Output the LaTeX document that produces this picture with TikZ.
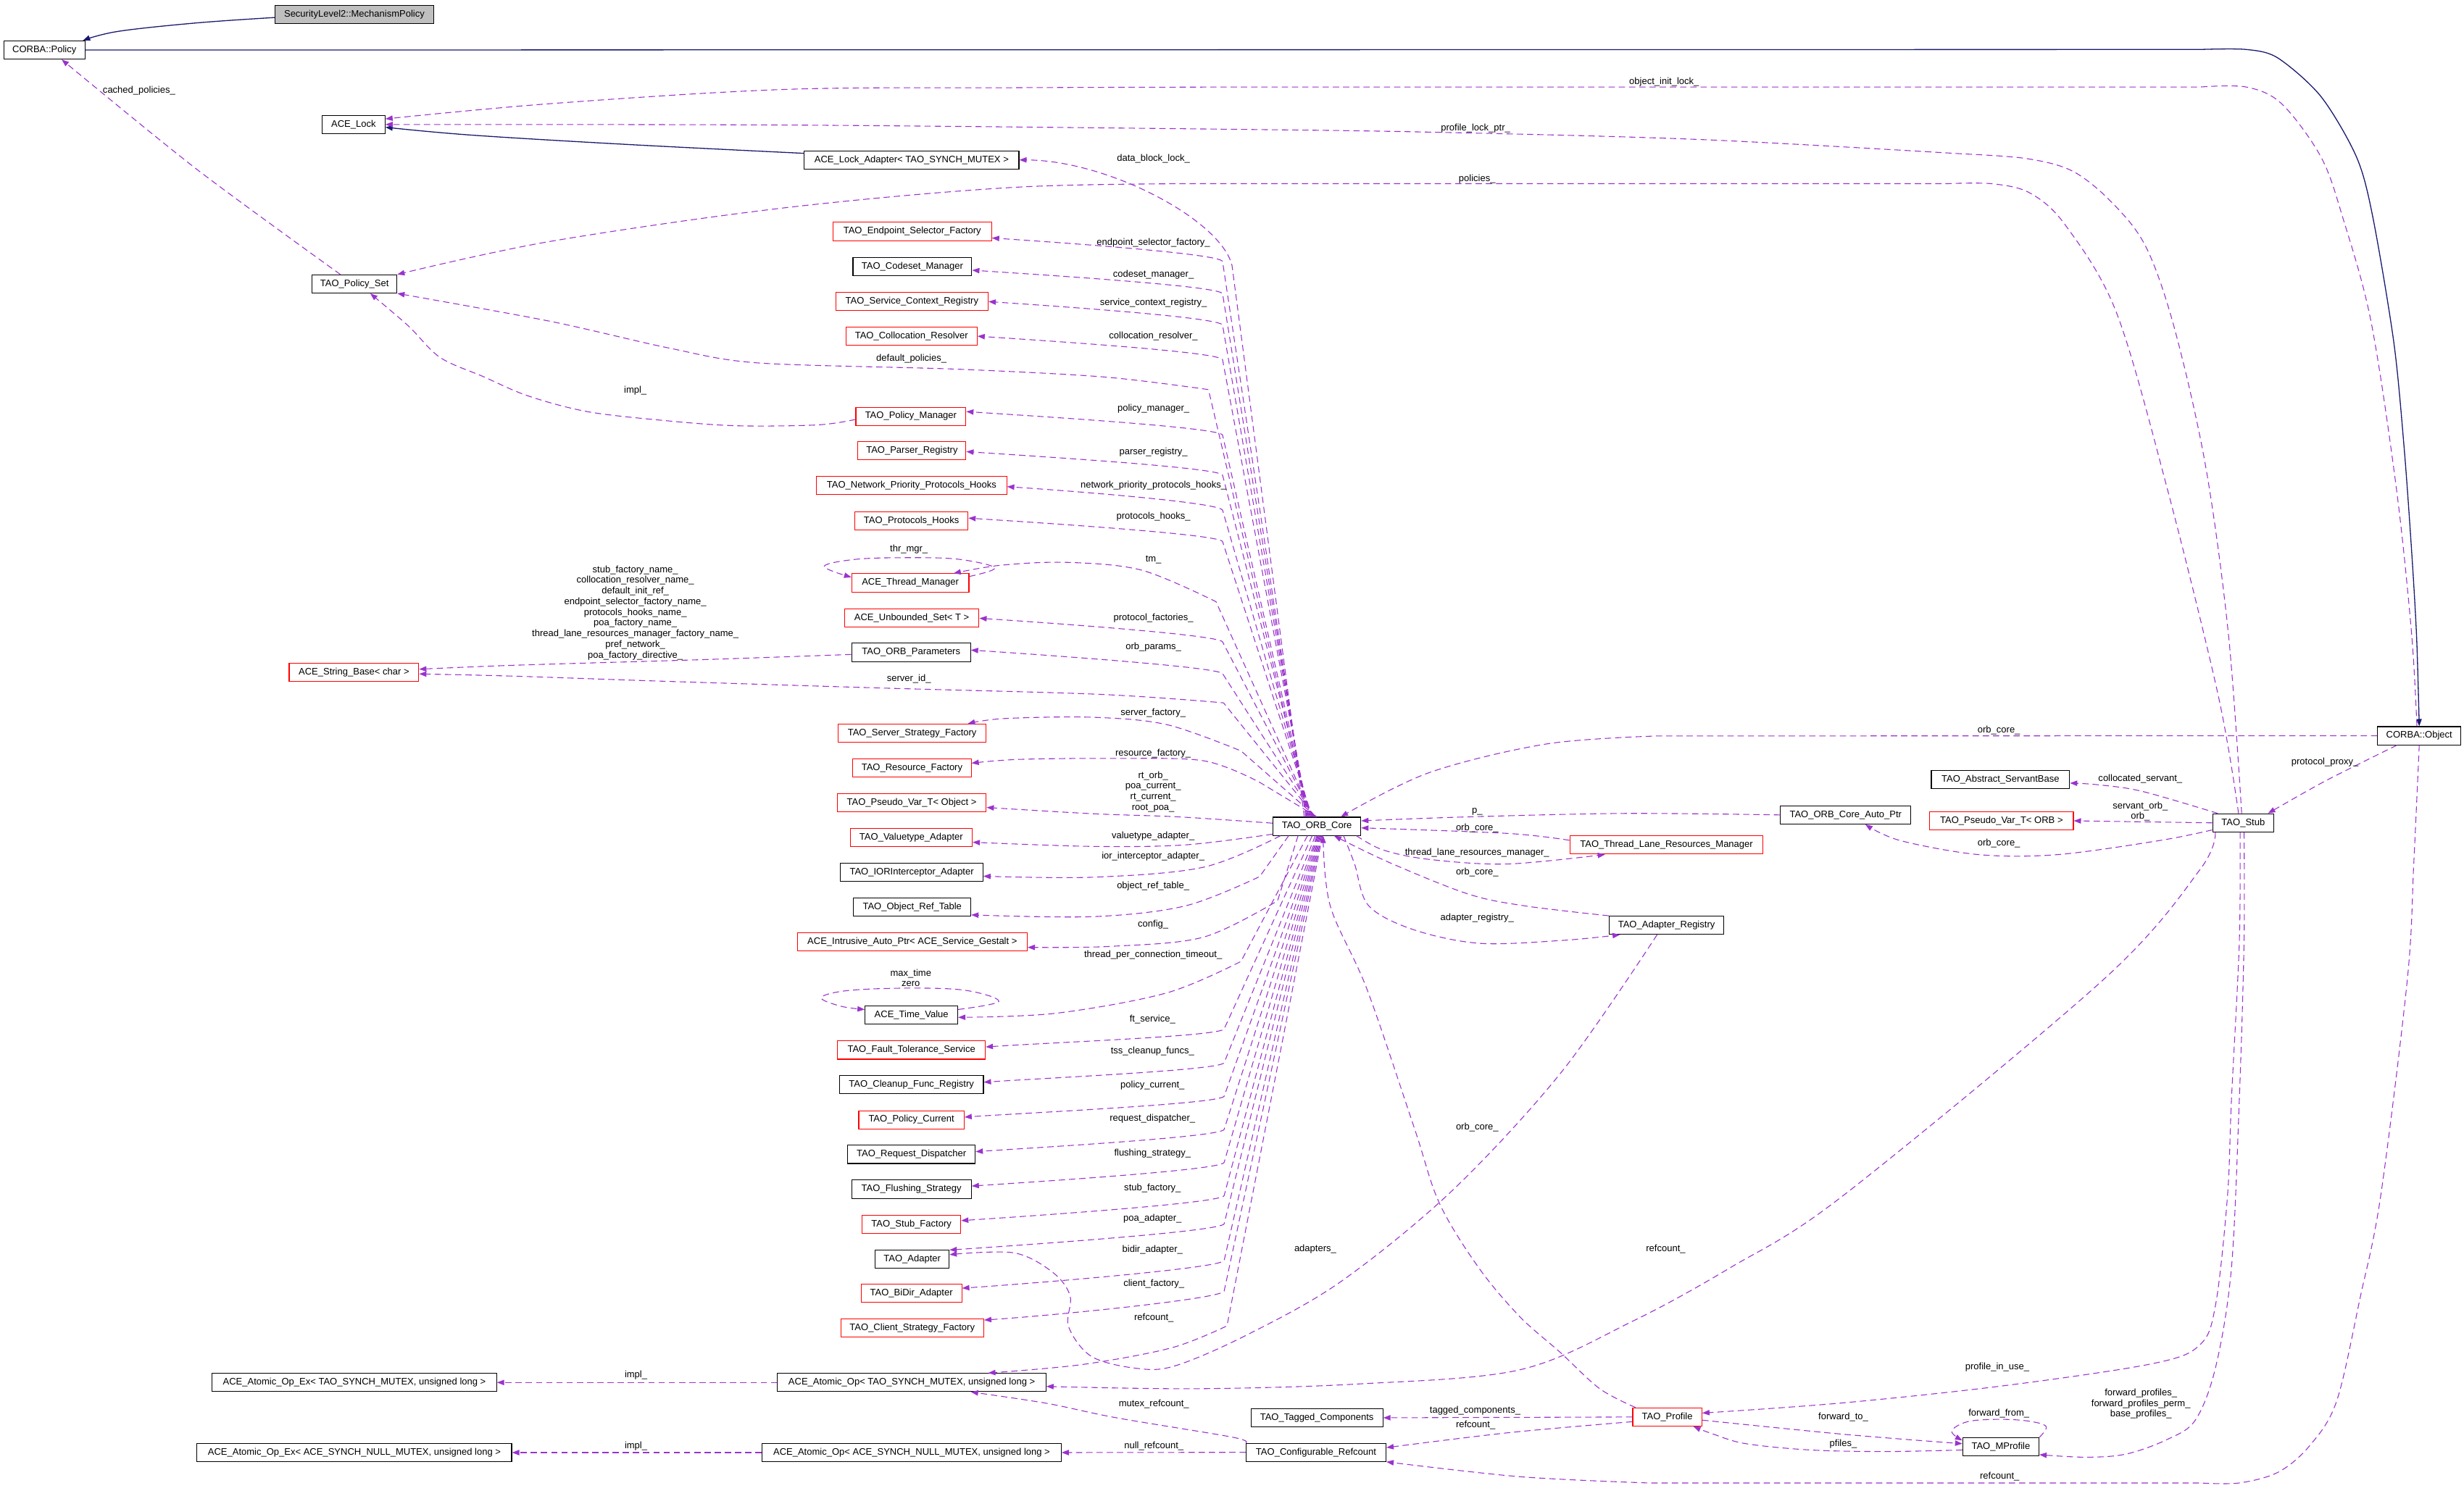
\documentclass[tikz,border=0pt]{standalone}
\usepackage{fontspec}
\setmainfont{Liberation Sans}
\usetikzlibrary{arrows.meta,calc}
\definecolor{usec}{HTML}{9A32CD}
\definecolor{inhc}{HTML}{191970}
\definecolor{grayfill}{HTML}{BFBFBF}
\newcommand\fs{\fontsize{6}{6.8}\selectfont}
\newcommand\ufan[4]{\coordinate (fs) at ($(orb.north)+(#4,0)$);\coordinate (fe) at ($(#1.east)+(0,#2)$);\coordinate (fb) at (778,{#3+15});\draw[use] (fs) -- (fb) .. controls ($(fb)!-5pt!(fs)$) and ($(fe)+(45,3)$) .. (fe);}
\newcommand\lfan[4]{\coordinate (fs) at ($(orb.south)+(#4,0)$);\coordinate (fe) at ($(#1.east)+(0,#2)$);\coordinate (fb) at (779,{#3-11.5-0.04*(#3-666)});\draw[use] (fs) -- (fb) .. controls ($(fb)!-5pt!(fs)$) and ($(fe)+(45,-3)$) .. (fe);}
\begin{document}
\begin{tikzpicture}[x=1pt,y=-1pt,
  box/.style={draw=black,line width=.5pt,minimum height=11.6pt,inner sep=0pt,font=\fs,fill=white},
  rbox/.style={box,draw=red},
  lbl/.style={font=\fs,inner sep=0pt,align=center},
  use/.style={draw=usec,line width=.5pt,dash pattern=on 4pt off 2.5pt,-{Triangle[length=4.6pt,width=3.4pt]}},
  inh/.style={draw=inhc,line width=.6pt,-{Triangle[length=4.6pt,width=3.4pt]}}]
\fill[white] (0,0) rectangle (1568,957.4);
\useasboundingbox (0,0) rectangle (1568,957.4);
% ---------------- nodes
\node[box,fill=grayfill,minimum width=101pt] (sec) at (225.5,9.15) {SecurityLevel2::MechanismPolicy};
\node[box,minimum width=51.5pt] (cpol) at (28.25,31.85) {CORBA::Policy};
\node[box,minimum width=40pt] (alock) at (225,79.25) {ACE\_Lock};
\node[box,minimum width=136.6pt] (lockad) at (580.1,101.8) {ACE\_Lock\_Adapter< TAO\_SYNCH\_MUTEX >};
\node[rbox,minimum width=101pt] (esf) at (580.5,147.35) {TAO\_Endpoint\_Selector\_Factory};
\node[box,minimum width=75.6pt] (csm) at (580.6,169.75) {TAO\_Codeset\_Manager};
\node[rbox,minimum width=97pt] (scr) at (580.3,191.8) {TAO\_Service\_Context\_Registry};
\node[rbox,minimum width=83.5pt] (cres) at (580.05,213.85) {TAO\_Collocation\_Resolver};
\node[box,minimum width=54pt] (pset) at (225.6,180.75) {TAO\_Policy\_Set};
\node[rbox,minimum width=70pt] (pman) at (579.65,265) {TAO\_Policy\_Manager};
\node[rbox,minimum width=68.7pt] (preg) at (580.35,287) {TAO\_Parser\_Registry};
\node[rbox,minimum width=121pt] (nph) at (580.1,309) {TAO\_Network\_Priority\_Protocols\_Hooks};
\node[rbox,minimum width=72pt] (phk) at (580,331.5) {TAO\_Protocols\_Hooks};
\node[rbox,minimum width=74.6pt] (thm) at (579.3,371) {ACE\_Thread\_Manager};
\node[rbox,minimum width=85.6pt] (uset) at (580.2,393.55) {ACE\_Unbounded\_Set< T >};
\node[box,minimum width=75.6pt] (orbp) at (579.8,415.3) {TAO\_ORB\_Parameters};
\node[rbox,minimum width=82.5pt] (strb) at (225.25,428) {ACE\_String\_Base< char >};
\node[rbox,minimum width=94.3pt] (ssf) at (580.45,466.75) {TAO\_Server\_Strategy\_Factory};
\node[rbox,minimum width=75.3pt] (rfac) at (580.35,488.8) {TAO\_Resource\_Factory};
\node[rbox,minimum width=94.8pt] (pvo) at (580.2,511) {TAO\_Pseudo\_Var\_T< Object >};
\node[rbox,minimum width=77.7pt] (vta) at (579.85,533.15) {TAO\_Valuetype\_Adapter};
\node[box,minimum width=90.6pt] (ior) at (580.2,555.25) {TAO\_IORInterceptor\_Adapter};
\node[box,minimum width=74.6pt] (ort) at (580.5,577.4) {TAO\_Object\_Ref\_Table};
\node[rbox,minimum width=146.3pt] (iap) at (580.55,599.55) {ACE\_Intrusive\_Auto\_Ptr< ACE\_Service\_Gestalt >};
\node[box,minimum width=59pt] (tval) at (580,646) {ACE\_Time\_Value};
\node[rbox,minimum width=94pt] (fts) at (580,668.45) {TAO\_Fault\_Tolerance\_Service};
\node[box,minimum width=91.6pt] (cfr) at (580,690.5) {TAO\_Cleanup\_Func\_Registry};
\node[rbox,minimum width=67pt] (pcur) at (580,712.8) {TAO\_Policy\_Current};
\node[box,minimum width=81.2pt] (rdis) at (580,734.85) {TAO\_Request\_Dispatcher};
\node[box,minimum width=76.2pt] (fls) at (580,757) {TAO\_Flushing\_Strategy};
\node[rbox,minimum width=62.8pt] (stf) at (580,779.25) {TAO\_Stub\_Factory};
\node[box,minimum width=47pt] (tad) at (580.5,801.45) {TAO\_Adapter};
\node[rbox,minimum width=64pt] (bidir) at (580,823.25) {TAO\_BiDir\_Adapter};
\node[rbox,minimum width=91pt] (csf) at (580.5,845.3) {TAO\_Client\_Strategy\_Factory};
\node[box,minimum width=56pt] (orb) at (838,526) {TAO\_ORB\_Core};
\node[rbox,minimum width=123pt] (tlrm) at (1060.5,537.9) {TAO\_Thread\_Lane\_Resources\_Manager};
\node[box,minimum width=83pt] (oap) at (1174.5,518.75) {TAO\_ORB\_Core\_Auto\_Ptr};
\node[box,minimum width=73pt] (areg) at (1060.5,589) {TAO\_Adapter\_Registry};
\node[box,minimum width=88pt] (asb) at (1273,496.2) {TAO\_Abstract\_ServantBase};
\node[rbox,minimum width=91.4pt] (pvorb) at (1273.7,522.5) {TAO\_Pseudo\_Var\_T< ORB >};
\node[box,minimum width=39pt] (stub) at (1427.5,523.8) {TAO\_Stub};
\node[box,minimum width=53pt] (cobj) at (1539.5,468.35) {CORBA::Object};
\node[box,minimum width=181pt] (aoex1) at (225.5,880.05) {ACE\_Atomic\_Op\_Ex< TAO\_SYNCH\_MUTEX, unsigned long >};
\node[box,minimum width=170.8pt] (aop1) at (580.2,880.05) {ACE\_Atomic\_Op< TAO\_SYNCH\_MUTEX, unsigned long >};
\node[box,minimum width=200.2pt] (aoex2) at (225.5,924.65) {ACE\_Atomic\_Op\_Ex< ACE\_SYNCH\_NULL\_MUTEX, unsigned long >};
\node[box,minimum width=190.3pt] (aop2) at (580.15,924.65) {ACE\_Atomic\_Op< ACE\_SYNCH\_NULL\_MUTEX, unsigned long >};
\node[box,minimum width=84pt] (tagc) at (838,902.5) {TAO\_Tagged\_Components};
\node[box,minimum width=89pt] (cref) at (837.5,924.5) {TAO\_Configurable\_Refcount};
\node[rbox,minimum width=44pt] (prof) at (1061,902) {TAO\_Profile};
\node[box,minimum width=48.5pt] (mprof) at (1273.25,921) {TAO\_MProfile};
% ---------------- inheritance
\draw[inh] plot[smooth,tension=.6] coordinates {($(sec.west)+(0,2)$) (125,14.6) (75,20) ($(cpol.north east)+(-1.5,0)$)};
\draw[inh] (cpol.east) -- (1400,31.5) -- plot[smooth,tension=.5] coordinates {(1400,31.5) (1429.4,31.5) (1449.5,36.9) (1477,61.5) (1499.6,100) (1510,138.4) (1523.3,217.8) (1529.8,284) (1534.6,350) (1537.8,405) (cobj.north)};
\draw[inh] plot[smooth,tension=.6] coordinates {($(lockad.west)+(0,-4.2)$) (400,92) (300,86) ($(alock.east)+(0,1.75)$)};
% ---------------- usage, top area
\draw[use] plot[smooth,tension=.5] coordinates {($(pset.north)+(-9,0)$) (125,107.6) ($(cpol.south)+(11,0)$)};
\draw[use] plot[smooth,tension=.55] coordinates {($(cobj.north)+(-1.5,0)$) (1534.6,403) (1524.9,310.5) (1508.8,204.6) (1490.8,138.4) (1477,100) (1452,66.1) (1429.4,55.4) (1400,55.4)} -- (784,55.4) -- plot[smooth,tension=.55] coordinates {(784,55.4) (650,55.8) (500,56.9) (350,66) ($(alock.north east)+(0,2.5)$)};
\draw[use] plot[smooth,tension=.55] coordinates {($(stub.north)+(-1,0)$) (1418,403) (1403.6,297) (1384,210) (1366,158) (1345,130) (1319.4,109.2) (1290,101) (1250,98)} -- plot[smooth,tension=.55] coordinates {(1250,98) (1084,88.9) (919,84.3) (784,82.3) (500,79.6) (alock.east)};
\draw[use] plot[smooth,tension=.55] coordinates {($(stub.north)+(-3,0)$) (1411.6,442.8) (1379,310.5) (1346.9,199.2) (1314.6,143.7) (1292,123) (1268,117) (1240,116.9)} -- (784,116.9) -- plot[smooth,tension=.55] coordinates {(784,116.9) (650,119) (500,132.2) (350,153.7) (pset.north east)};
\draw[use] plot[smooth,tension=.55] coordinates {($(pman.west)+(0,2)$) (520,270.5) (468,271) (420.7,267.5) (373.6,262) (336,252) (307.7,239.8) (280,227.5) (260,207.6) ($(pset.south)+(10,0)$)};
\draw[use] plot[smooth,tension=.55] coordinates {($(orbp.west)+(0,1.3)$) (444,420) (326.6,423.5) ($(strb.east)+(0,-2)$)};
% ---------------- ORB core fan, upper
\coordinate (fs) at ($(orb.north)+(-8,0)$);
\draw[use] (fs) -- (784,169) .. controls (777,140) and (705,102) .. (lockad.east);
\ufan{esf}{4.15}{151.5}{-7}
\ufan{csm}{2.25}{172}{-6.5}
\ufan{scr}{0.2}{192}{-6}
\ufan{cres}{0.15}{214}{-5.5}
\coordinate (fs) at ($(orb.north)+(-5,0)$);
\draw[use] (fs) -- plot[smooth,tension=.5] coordinates {(769,248) (703,240) (609,235) (482,231) (425,221.4) (350,204.5) (pset.south east)};
\ufan{pman}{-3}{262}{-4.5}
\ufan{preg}{0.5}{287.5}{-4}
\ufan{nph}{0.8}{309.8}{-3.5}
\ufan{phk}{-1.7}{329.8}{-3}
\coordinate (fs) at ($(orb.north)+(-2.5,0)$);
\draw[use] (fs) -- plot[smooth,tension=.55] coordinates {(773.8,383) (726.7,363) (679.5,358) (637,359.8) ($(thm.north east)+(-10,0)$)};
\draw[use] plot[smooth,tension=.6] coordinates {($(thm.north east)+(0,2)$) (633,361.5) (610,356) (578.4,355) (545,356) (524.5,360.5) ($(thm.north west)+(0,2.5)$)};
\ufan{uset}{0}{393.6}{-2}
\ufan{orbp}{-1.5}{413.8}{-1.5}
\coordinate (fs) at ($(orb.north)+(-1,0)$);
\draw[use] (fs) -- plot[smooth,tension=.55] coordinates {(778.6,447.4) (700,442) (561.8,438) (420.7,433.6) (326.6,430.4) ($(strb.east)+(0,1)$)};
\coordinate (fs) at ($(orb.north)+(-0.5,0)$);
\draw[use] (fs) -- plot[smooth,tension=.55] coordinates {(789.7,478) (742.6,461.3) (695.6,456.6) (639,457.4) ($(ssf.north east)+(-12,0)$)};
\draw[use] (orb.north) -- plot[smooth,tension=.55] coordinates {(801.6,498) (766,484.3) (707.4,482.8) (648.5,483.4) ($(rfac.east)+(0,-3)$)};
\draw[use] plot[smooth,tension=.55] coordinates {($(orb.west)+(0,-2)$) (750,520) (695.6,518) ($(pvo.east)+(0,3)$)};
% ---------------- ORB core fan, lower
\draw[use] plot[smooth,tension=.55] coordinates {($(orb.west)+(0,5)$) (754.5,537.8) (695.6,538.8) ($(vta.east)+(0,3)$)};
\draw[use] plot[smooth,tension=.55] coordinates {($(orb.south west)+(5,0)$) (766,552) (695.6,558.4) ($(ior.east)+(0,2.5)$)};
\coordinate (fs) at ($(orb.south)+(-18,0)$);
\draw[use] (fs) -- plot[smooth,tension=.55] coordinates {(801.6,558) (754.5,576.6) (695.6,583.5) ($(ort.east)+(0,5)$)};
\coordinate (fs) at ($(orb.south)+(-12,0)$);
\draw[use] (fs) -- plot[smooth,tension=.55] coordinates {(813,573.4) (766,596.5) (707.4,602.4) ($(iap.east)+(0,3.5)$)};
\coordinate (fs) at ($(orb.south)+(-6,0)$);
\draw[use] (fs) -- plot[smooth,tension=.55] coordinates {(789.7,612) (742.6,632) (672,645) ($(tval.east)+(0,1.6)$)};
\draw[use] plot[smooth,tension=.6] coordinates {($(tval.east)+(0,-3.4)$) (635.6,637.5) (615,630.5) (580,629) (540,630.5) (522.6,635) (535,640.5) ($(tval.west)+(0,-3.4)$)};
\lfan{fts}{-2}{666.5}{-3}
\lfan{cfr}{-1.6}{688.9}{-1}
\lfan{pcur}{-1.7}{711.1}{0}
\lfan{rdis}{-1.75}{733.1}{0.5}
\lfan{fls}{-2}{755}{1}
\lfan{stf}{-2.25}{777}{1.5}
\lfan{tad}{-5.75}{795.7}{2}
\lfan{bidir}{-3.25}{820}{2.5}
\lfan{csf}{-5}{840.3}{3}
\coordinate (fs) at ($(orb.south)+(3.5,0)$);
\draw[use] (fs) -- plot[smooth,tension=.55] coordinates {(780.8,844) (745.4,858) (688,868.7) ($(aop1.north east)+(-37,0)$)};
% ---------------- right side
\draw[use] (cobj.west) -- plot[smooth,tension=.55] coordinates {(1054.5,468.5) (984,473.6) (909,492) ($(orb.north east)+(-13,0)$)};
\draw[use] plot[smooth,tension=.5] coordinates {($(cobj.south west)+(12.5,0)$) (1480,497) ($(stub.north east)+(-4,0)$)};
\draw[use] plot[smooth,tension=.55] coordinates {($(stub.north west)+(3.5,0)$) (1363,503.7) (1334.5,499.5) ($(asb.east)+(0,2.3)$)};
\draw[use] (stub.west) -- (pvorb.east);
\draw[use] plot[smooth,tension=.55] coordinates {($(stub.west)+(0,4.5)$) (1374.6,535) (1309.5,544) (1259,544) (1209,535) ($(oap.south)+(12.5,0)$)};
\draw[use] plot[smooth,tension=.55] coordinates {(oap.west) (1034,517.8) (934,520) ($(orb.east)+(0,-3.5)$)};
\draw[use] plot[smooth,tension=.55] coordinates {($(tlrm.west)+(0,-3)$) (959,530.5) ($(orb.east)+(0,1)$)};
\draw[use] plot[smooth,tension=.55] coordinates {($(orb.south east)+(-3,0)$) (880,541) (909,547) (959,550) ($(tlrm.south west)+(22.6,0)$)};
\draw[use] plot[smooth,tension=.55] coordinates {(areg.north west) (970,576.6) (934,569) (884,549) ($(orb.south)+(11,0)$)};
\draw[use] plot[smooth,tension=.55] coordinates {($(orb.south)+(17,0)$) (862,550) (871,576.6) (899.5,591.8) (941.7,600.5) (994.6,598.6) ($(areg.south west)+(7,0)$)};
\draw[use] plot[smooth,tension=.55] coordinates {($(prof.north west)+(2,0)$) (1018,884) (993,861) (967,838) (941,807) (916,766) (900,718) (870,630) (846.5,576.6) ($(orb.south)+(4,0)$)};
\draw[use] plot[smooth,tension=.55] coordinates {($(areg.south)+(-6,0)$) (994,682) (924,758) (853,816) (793,850) (747.6,869.5) (723,871) (694.6,863.5) (680,844.5) (681,825) (670,810) (645.2,797.5) ($(tad.east)+(0,-2.8)$)};
\draw[use] plot[smooth,tension=.55] coordinates {($(stub.south west)+(2,0)$) (1400,553.5) (1339.5,622.7) (1173,761) (1101,807) (1039,841) (967,872) (864,881) (761,884) ($(aop1.east)+(0,2.5)$)};
\draw[use] plot[smooth,tension=.55] coordinates {($(stub.south)+(-2,0)$) (1425,600) (1420,700) (1417.5,761) (1410,830) (1400,856) (1370,868) (1276,882) (1173,893) ($(prof.east)+(0,-2.5)$)};
\draw[use] plot[smooth,tension=.55] coordinates {($(stub.south)+(0.5,0)$) (1428,600) (1425,700) (1420,807) (1410,870) (1397,904) (1378.7,916.5) (1353,925.6) (1327.4,927.6) ($(mprof.east)+(0,5)$)};
\draw[use] plot[smooth,tension=.55] coordinates {(cobj.south) (1536,550) (1532,622.7) (1515,761) (1502,825.6) (1487,891.7) (1470,920) (1450,937) (1425,944) (1400,944)} -- (1049,944) -- plot[smooth,tension=.55] coordinates {(1049,944) (967,940) (cref.south east)};
\draw[use] (prof.west) -- (tagc.east);
\draw[use] plot[smooth,tension=.55] coordinates {($(prof.west)+(0,3)$) (960,912) ($(cref.east)+(0,-3)$)};
\draw[use] plot[smooth,tension=.55] coordinates {($(prof.east)+(0,2)$) (1173,913) ($(mprof.west)+(0,-2)$)};
\draw[use] plot[smooth,tension=.55] coordinates {($(mprof.west)+(0,2)$) (1200,924) (1152,923) (1111,919) (1090.5,913) ($(prof.south)+(16.6,0)$)};
\draw[use] plot[smooth,tension=.6] coordinates {(mprof.north east) (1302,908) (1290,904.5) (1271,903.5) (1252,905) (1242,911) ($(mprof.north west)+(0,2)$)};
% ---------------- bottom left
\draw[use] (aop1.west) -- (aoex1.east);
\draw[use] (aop2.west) -- (aoex2.east);
\draw[use] plot[smooth,tension=.55] coordinates {(cref.north west) (784,914.8) (710.4,902.5) (666,893.3) ($(aop1.south east)+(-48,0)$)};
\draw[use] (cref.west) -- (aop2.east);
% ---------------- labels
\node[lbl] (l01) at (88.5,57.7) {cached\_policies\_};
\node[lbl] (l02) at (1059,52) {object\_init\_lock\_};
\node[lbl] (l03) at (939,81.5) {profile\_lock\_ptr\_};
\node[lbl] (l04) at (940,113.8) {policies\_};
\node[lbl] (l05) at (734,101) {data\_block\_lock\_};
\node[lbl] (l06) at (734,154.5) {endpoint\_selector\_factory\_};
\node[lbl] (l07) at (734,175) {codeset\_manager\_};
\node[lbl] (l08) at (734,193) {service\_context\_registry\_};
\node[lbl] (l09) at (734,214) {collocation\_resolver\_};
\node[lbl] (l10) at (580,228.3) {default\_policies\_};
\node[lbl] (l11) at (404.3,248.8) {impl\_};
\node[lbl] (l12) at (734,260) {policy\_manager\_};
\node[lbl] (l13) at (734,288) {parser\_registry\_};
\node[lbl] (l14) at (734,309) {network\_priority\_protocols\_hooks\_};
\node[lbl] (l15) at (734,329) {protocols\_hooks\_};
\node[lbl] (l16) at (578.4,349.5) {thr\_mgr\_};
\node[lbl] (l17) at (734,356.4) {tm\_};
\node[lbl] (l18) at (734,393.3) {protocol\_factories\_};
\node[lbl] (l19) at (734,412) {orb\_params\_};
\node[lbl] (l20) at (404.3,390) {stub\_factory\_name\_\\collocation\_resolver\_name\_\\default\_init\_ref\_\\endpoint\_selector\_factory\_name\_\\protocols\_hooks\_name\_\\poa\_factory\_name\_\\thread\_lane\_resources\_manager\_factory\_name\_\\pref\_network\_\\poa\_factory\_directive\_};
\node[lbl] (l21) at (578.4,432) {server\_id\_};
\node[lbl] (l22) at (733.8,453.9) {server\_factory\_};
\node[lbl] (l23) at (733.8,479.7) {resource\_factory\_};
\node[lbl] (l24) at (733.8,504) {rt\_orb\_\\poa\_current\_\\rt\_current\_\\root\_poa\_};
\node[lbl] (l25) at (733.8,532.4) {valuetype\_adapter\_};
\node[lbl] (l26) at (733.8,545) {ior\_interceptor\_adapter\_};
\node[lbl] (l27) at (733.8,564) {object\_ref\_table\_};
\node[lbl] (l28) at (733.8,588.4) {config\_};
\node[lbl] (l29) at (733.8,608) {thread\_per\_connection\_timeout\_};
\node[lbl] (l30) at (579.6,622.5) {max\_time\\zero};
\node[lbl] (l31) at (733.4,649) {ft\_service\_};
\node[lbl] (l32) at (733.4,669.3) {tss\_cleanup\_funcs\_};
\node[lbl] (l33) at (733.4,690.8) {policy\_current\_};
\node[lbl] (l34) at (733.4,712) {request\_dispatcher\_};
\node[lbl] (l35) at (733.4,734.4) {flushing\_strategy\_};
\node[lbl] (l36) at (733.4,756.4) {stub\_factory\_};
\node[lbl] (l37) at (733.4,775.6) {poa\_adapter\_};
\node[lbl] (l38) at (733.4,795.7) {bidir\_adapter\_};
\node[lbl] (l39) at (734.3,817.2) {client\_factory\_};
\node[lbl] (l40) at (734.3,839) {refcount\_};
\node[lbl] (l41) at (837,795.3) {adapters\_};
\node[lbl] (l42) at (1060,795) {refcount\_};
\node[lbl] (l43) at (940,717.7) {orb\_core\_};
\node[lbl] (l44) at (940,584.4) {adapter\_registry\_};
\node[lbl] (l45) at (940,555.4) {orb\_core\_};
\node[lbl] (l46) at (940,543) {thread\_lane\_resources\_manager\_};
\node[lbl] (l47) at (940,527) {orb\_core\_};
\node[lbl] (l48) at (940,516.6) {p\_};
\node[lbl] (l49) at (1272,465) {orb\_core\_};
\node[lbl] (l50) at (1479.5,485) {protocol\_proxy\_};
\node[lbl] (l51) at (1362,495.8) {collocated\_servant\_};
\node[lbl] (l52) at (1362,516.5) {servant\_orb\_\\orb\_};
\node[lbl] (l53) at (1272,537) {orb\_core\_};
\node[lbl] (l54) at (1271,870.5) {profile\_in\_use\_};
\node[lbl] (l55) at (1362.4,893.6) {forward\_profiles\_\\forward\_profiles\_perm\_\\base\_profiles\_};
\node[lbl] (l56) at (1272,900) {forward\_from\_};
\node[lbl] (l57) at (1173,902) {forward\_to\_};
\node[lbl] (l58) at (1173,919) {pfiles\_};
\node[lbl] (l59) at (938.7,898) {tagged\_components\_};
\node[lbl] (l60) at (939,907) {refcount\_};
\node[lbl] (l61) at (1272.5,940) {refcount\_};
\node[lbl] (l62) at (734.3,893.6) {mutex\_refcount\_};
\node[lbl] (l63) at (734.3,920.7) {null\_refcount\_};
\node[lbl] (l64) at (404.7,875.5) {impl\_};
\node[lbl] (l65) at (404.7,920.5) {impl\_};
\end{tikzpicture}
\end{document}
